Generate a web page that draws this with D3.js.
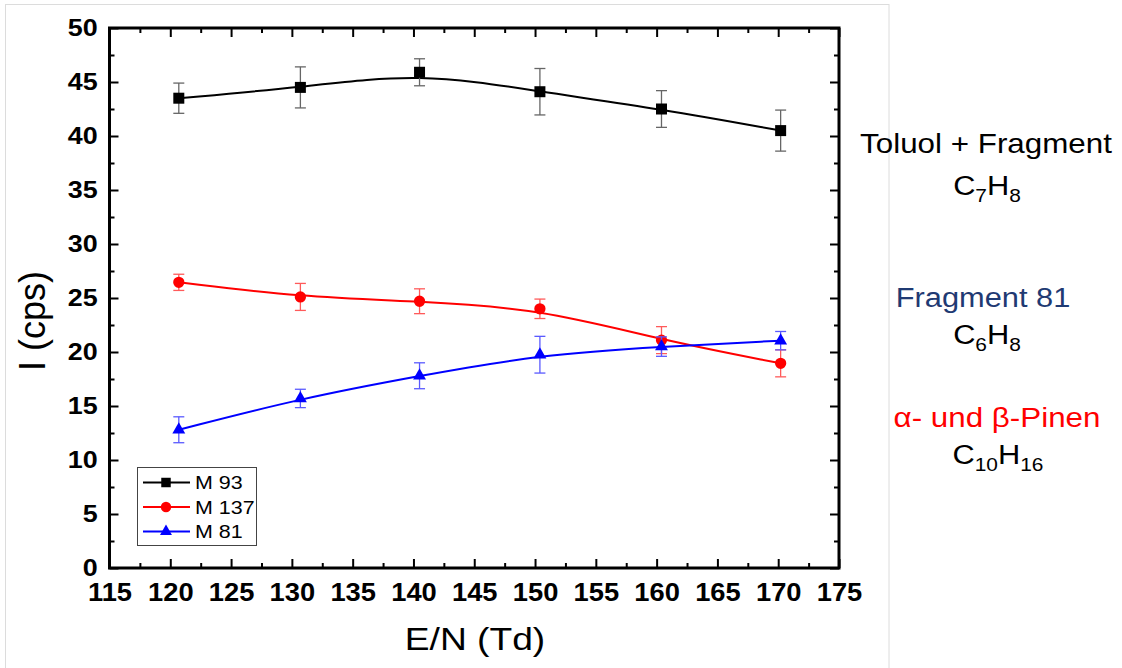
<!DOCTYPE html>
<html>
<head>
<meta charset="utf-8">
<script src="https://cdn.jsdelivr.net/npm/d3@7"></script>
<style>
   body {margin: 0; background: #fff;}
   text {font-family: Arial, "Liberation Sans", sans-serif;}
</style>
</head>
<body>
<div id="plotDiv"></div>
<script>
//----------------------------------------------------------------------------------------------------
// values
var energies   = [120.7, 130.7, 140.5, 150.4, 160.4, 170.2];     // E/N (Td)
var m93        = [43.5, 44.5, 45.9, 44.1, 42.5, 40.5];
var m93Err     = [1.4, 1.9, 1.25, 2.15, 1.7, 1.9];
var m137       = [26.45, 25.1, 24.7, 24.0, 21.1, 18.95];
var m137Err    = [0.75, 1.25, 1.15, 0.9, 1.25, 1.25];
var m81        = [12.8, 15.7, 17.8, 19.75, 20.5, 21.05];
var m81Err     = [1.2, 0.85, 1.2, 1.7, 0.9, 0.85];
var seriesNames = ["M 93", "M 137", "M 81"];
var xTicks     = [115, 120, 125, 130, 135, 140, 145, 150, 155, 160, 165, 170, 175];
var yTicks     = [0, 5, 10, 15, 20, 25, 30, 35, 40, 45, 50];
var xLabel     = "E/N (Td)";
var yLabel     = "I (cps)";

var width = 1122, height = 668;
   // note: window.top is read-only, so keep the plot edges under other names
var plotLeft = 109.5, plotRight = 839, plotTop = 28, plotBottom = 568;

var series = [
   {name: seriesNames[0], y: m93,  err: m93Err,  color: "#000000", errColor: "#666666", symbol: d3.symbolSquare,   size: 121, legendSize: 90},
   {name: seriesNames[1], y: m137, err: m137Err, color: "#ff0000", errColor: "#ff5a5a", symbol: d3.symbolCircle,   size: 100, legendSize: 85},
   {name: seriesNames[2], y: m81,  err: m81Err,  color: "#0000ff", errColor: "#5a5aff", symbol: d3.symbolTriangle, size: 72,  legendSize: 62}
   ];

var svg = d3.select("#plotDiv").append("svg")
            .attr("width", width)
            .attr("height", height);

var xScale = d3.scaleLinear().domain([115, 175]).range([plotLeft, plotRight]);
var yScale = d3.scaleLinear().domain([0, 50]).range([plotBottom, plotTop]);

//----------------------------------------------------------------------------------------------------
function drawAxes()
{
      // faint page border from the slide
   svg.append("rect")
      .attr("x", 5.5).attr("y", 4.5)
      .attr("width", 883.5).attr("height", 700)
      .attr("fill", "none").attr("stroke", "#dcdcdc");

   var xMinor = d3.range(117.5, 175, 5);
   var yMinor = d3.range(2.5, 50, 5);

   var axes = [
      {axis: d3.axisBottom(xScale), ticks: xTicks, minor: xMinor, t: "translate(0," + plotBottom + ")", labels: true, pad: 14.5, font: 26, sx: 1.05},
      {axis: d3.axisTop(xScale),    ticks: xTicks, minor: xMinor, t: "translate(0," + plotTop + ")",    labels: false},
      {axis: d3.axisLeft(yScale),   ticks: yTicks, minor: yMinor, t: "translate(" + plotLeft + ",0)",   labels: true, pad: 10.5, font: 24, sx: 1.12},
      {axis: d3.axisRight(yScale),  ticks: yTicks, minor: yMinor, t: "translate(" + plotRight + ",0)",  labels: false}
      ];

   axes.forEach(function(a){
      var major = a.axis.tickValues(a.ticks).tickSizeInner(-9).tickSizeOuter(0).tickPadding(a.pad || 0)
                   .tickFormat(a.labels ? d3.format("d") : "");
      var g = svg.append("g").attr("transform", a.t).call(major);
      g.select(".domain").remove();
      g.selectAll("line").attr("stroke", "#000").attr("stroke-width", 2);
      if(a.labels){
         g.selectAll("text")
            .attr("fill", "#000")
            .style("font-size", a.font + "px")
            .style("font-weight", "bold")
            .attr("transform", "scale(" + a.sx + ",1)");
         }

      var m = svg.append("g").attr("transform", a.t)
                 .call(a.axis.tickValues(a.minor).tickSizeInner(-5).tickFormat(""));
      m.select(".domain").remove();
      m.selectAll("line").attr("stroke", "#000").attr("stroke-width", 2);
      });

   svg.append("rect")
      .attr("x", plotLeft).attr("y", plotTop)
      .attr("width", plotRight - plotLeft).attr("height", plotBottom - plotTop)
      .attr("fill", "none").attr("stroke", "#000").attr("stroke-width", 3);

   svg.append("text")
      .attr("transform", "translate(475,650) scale(1.2,1)")
      .attr("text-anchor", "middle")
      .style("font-size", "31px")
      .text(xLabel);

   svg.append("text")
      .attr("transform", "translate(45,321) rotate(-90)")
      .attr("text-anchor", "middle")
      .style("font-size", "36px")
      .text(yLabel);

} // drawAxes
//----------------------------------------------------------------------------------------------------
function drawSeries()
{
   var line = d3.line()
                .x(function(d){ return xScale(d.x); })
                .y(function(d){ return yScale(d.y); })
                .curve(d3.curveBasis);

   series.forEach(function(s){
      var pts = energies.map(function(x, i){ return {x: x, y: s.y[i], e: s.err[i]}; });

      svg.append("path")
         .datum(pts)
         .attr("d", line)
         .attr("fill", "none")
         .attr("stroke", s.color)
         .attr("stroke-width", 2);

      var bars = svg.append("g")
                    .attr("stroke", s.errColor)
                    .attr("stroke-width", 1.3);
      pts.forEach(function(p){
         var cx = xScale(p.x), y0 = yScale(p.y - p.e), y1 = yScale(p.y + p.e);
         bars.append("line").attr("x1", cx).attr("x2", cx).attr("y1", y0).attr("y2", y1);
         bars.append("line").attr("x1", cx - 5.5).attr("x2", cx + 5.5).attr("y1", y0).attr("y2", y0);
         bars.append("line").attr("x1", cx - 5.5).attr("x2", cx + 5.5).attr("y1", y1).attr("y2", y1);
         });

      svg.selectAll(null)
         .data(pts)
         .enter()
         .append("path")
         .attr("d", d3.symbol().type(s.symbol).size(s.size))
         .attr("transform", function(d){
            return "translate(" + xScale(d.x) + "," + yScale(d.y) + ")";
            })
         .attr("fill", s.color);
      });

} // drawSeries
//----------------------------------------------------------------------------------------------------
function drawLegend()
{
   svg.append("rect")
      .attr("x", 137.5).attr("y", 467.5)
      .attr("width", 119).attr("height", 78)
      .attr("fill", "#fff").attr("stroke", "#444").attr("stroke-width", 1);

   var rowY = [482.5, 507, 531.5];

   series.forEach(function(s, i){
      var y = rowY[i];
      svg.append("line")
         .attr("x1", 143).attr("x2", 190).attr("y1", y).attr("y2", y)
         .attr("stroke", s.color).attr("stroke-width", 2);
      svg.append("path")
         .attr("d", d3.symbol().type(s.symbol).size(s.legendSize))
         .attr("transform", "translate(166," + y + ")")
         .attr("fill", s.color);
      svg.append("text")
         .attr("transform", "translate(195," + (y + 6.8) + ") scale(1.13,1)")
         .style("font-size", "19px")
         .text(s.name);
      });

} // drawLegend
//----------------------------------------------------------------------------------------------------
function formula(cx, baseline, parts)
{
      // parts alternate: element, subscript, element, subscript
   var t = svg.append("text")
              .attr("transform", "translate(" + cx + "," + baseline + ") scale(1.1,1)")
              .attr("text-anchor", "middle")
              .style("font-size", "28px")
              .attr("fill", "#000");
   parts.forEach(function(p, i){
      if(i % 2 == 0)
         t.append("tspan").attr("dy", i == 0 ? 0 : -7).style("font-size", "28px").text(p);
      else
         t.append("tspan").attr("dy", 7).style("font-size", "19px").text(p);
      });

} // formula
//----------------------------------------------------------------------------------------------------
function drawAnnotations()
{
   var notes = [
      {text: "Toluol + Fragment", x: 986, y: 153, color: "#000000", sx: 1.12},
      {text: "Fragment 81",       x: 983, y: 307, color: "#1f3a73", sx: 1.1},
      {text: "\u03b1- und \u03b2-Pinen", x: 997, y: 427, color: "#ff0000", sx: 1.12}
      ];

   notes.forEach(function(n){
      svg.append("text")
         .attr("transform", "translate(" + n.x + "," + n.y + ") scale(" + n.sx + ",1)")
         .attr("text-anchor", "middle")
         .style("font-size", "28px")
         .attr("fill", n.color)
         .text(n.text);
      });

   formula(987, 195, ["C", "7", "H", "8"]);
   formula(987, 344, ["C", "6", "H", "8"]);
   formula(998, 464, ["C", "10", "H", "16"]);

} // drawAnnotations
//----------------------------------------------------------------------------------------------------
drawAxes();
drawSeries();
drawLegend();
drawAnnotations();
//----------------------------------------------------------------------------------------------------
</script>
</body>
</html>
